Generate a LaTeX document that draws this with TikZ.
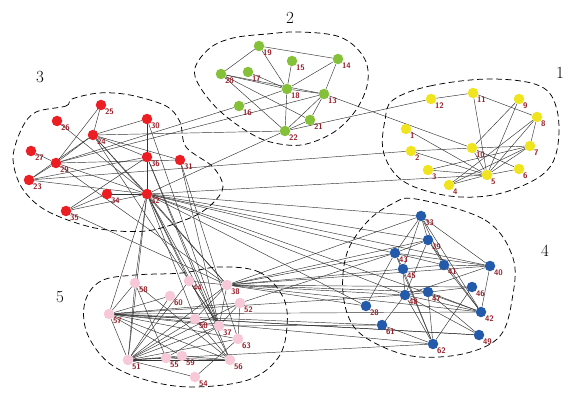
\documentclass[tikz,border=0pt]{standalone}
\usetikzlibrary{backgrounds}
\definecolor{clyellow}{RGB}{240,228,30}
\definecolor{clgreen}{RGB}{133,193,56}
\definecolor{clred}{RGB}{235,30,35}
\definecolor{clblue}{RGB}{35,90,170}
\definecolor{clpink}{RGB}{247,200,215}
\definecolor{labelred}{RGB}{150,30,40}

\begin{document}
\begin{tikzpicture}[x=1pt,y=-1pt,
  vtx/.style={circle,inner sep=0pt,minimum size=10.5pt},
  lbl/.style={anchor=north west,inner sep=0pt,text=labelred,
    font=\sffamily\bfseries\fontsize{8}{8}\selectfont},
  edge/.style={black!80,line width=0.45pt},
  hull/.style={dash pattern=on 6pt off 3.5pt,line width=0.75pt},
  cnum/.style={font=\fontsize{17}{17}\selectfont}]
  \useasboundingbox (0,0) rectangle (572,395);

  % community 1 (yellow)
  \foreach \n/\x/\y in {1/406/129, 2/411/151, 3/428/170, 4/449/185, 5/487/175,
      6/519/169, 7/530/146, 8/537/117, 9/519/99, 10/472/148, 11/473/93, 12/431/99}
    \node[vtx,fill=clyellow,label={[lbl]south east:\n}] (n\n) at (\x,\y) {};
  % community 2 (green)
  \foreach \n/\x/\y in {13/324/94, 14/338/59, 15/292/61, 16/239/106, 17/248/72,
      18/287/89, 19/259/46, 20/221/74, 21/310/120, 22/285/131}
    \node[vtx,fill=clgreen,label={[lbl]south east:\n}] (n\n) at (\x,\y) {};
  % community 3 (red)
  \foreach \n/\x/\y in {23/29/180, 24/93/135, 25/101/105, 26/57/121, 27/31/151,
      29/56/163, 30/147/119, 31/180/160, 32/147/194, 34/107/194, 35/66/211, 36/147/157}
    \node[vtx,fill=clred,label={[lbl]south east:\n}] (n\n) at (\x,\y) {};
  % community 4 (blue)
  \foreach \n/\x/\y in {28/366/306, 33/421/216, 39/428/240, 40/490/266, 41/444/265,
      42/481/312, 43/395/253, 45/403/269, 46/472/287, 47/428/292, 48/405/295,
      49/479/335, 61/382/325, 62/433/344}
    \node[vtx,fill=clblue,label={[lbl]south east:\n}] (n\n) at (\x,\y) {};
  % community 5 (pink)
  \foreach \n/\x/\y in {37/219/326, 38/227/285, 44/189/281, 50/195/319, 51/128/360,
      52/240/303, 54/195/377, 55/166/358, 56/230/360, 57/109/314, 58/135/283,
      59/182/356, 60/170/296, 63/238/339}
    \node[vtx,fill=clpink,label={[lbl]south east:\n}] (n\n) at (\x,\y) {};

  % dashed hulls
  \draw[hull] plot[smooth cycle,tension=0.6] coordinates {(393,100) (430,86) (490,79)
    (540,86) (557,110) (557,150) (542,175) (502,193) (460,197) (420,189) (396,175)
    (383,150) (385,120)};
  \draw[hull] plot[smooth cycle,tension=0.6] coordinates {(233,38) (267,34) (300,32)
    (340,37) (363,56) (368,80) (358,107) (337,130) (310,143) (287,145) (257,137)
    (222,113) (200,87) (195,68) (210,48)};
  \draw[hull] plot[smooth cycle,tension=0.55] coordinates {(36,112) (66,106) (72,99)
    (99,93) (130,95) (166,106) (180,122) (186,147) (213,167) (223,187) (212,204)
    (190,218) (146,231) (95,228) (47,211) (22,188) (13,158) (22,128)};
  \draw[hull] plot[smooth cycle,tension=0.6] coordinates {(416,199) (485,220) (513,258)
    (512,300) (500,336) (467,353) (420,357) (383,347) (354,327) (343,293) (347,253)
    (367,222) (392,204)};
  \draw[hull] plot[smooth cycle,tension=0.6] coordinates {(219,267) (259,272) (283,297)
    (287,327) (278,358) (248,380) (192,387) (146,380) (109,363) (87,333) (85,302)
    (101,281) (135,275) (182,273)};

  % community numbers
  \node[cnum] (c1) at (560,73) {1};
  \node[cnum] (c2) at (290,18) {2};
  \node[cnum] (c3) at (40,77) {3};
  \node[cnum] (c4) at (545,251) {4};
  \node[cnum] (c5) at (60,297) {5};

  % links
  \begin{scope}[on background layer]
    \foreach \a/\b in {12/11, 11/5, 11/8, 9/10, 9/5, 8/7, 8/5, 8/4, 7/10, 7/5,
        7/4, 3/7, 10/5, 10/2, 10/6, 1/5, 2/5, 3/5, 4/5, 6/5,
        19/20, 19/14, 19/18, 15/18, 14/18, 14/13, 17/18, 20/18, 20/13, 20/21,
        20/22, 16/18, 18/13, 18/22, 13/22, 21/22, 13/21,
        13/10, 22/12, 22/24, 22/32, 13/29, 16/29, 2/23, 5/32,
        25/24, 25/29, 24/29, 24/30, 24/36, 24/31, 24/32, 27/29, 29/23, 29/31,
        29/32, 23/36, 23/32, 26/32, 30/36, 36/32, 35/36, 35/34, 35/32, 34/32, 23/24,
        32/57, 32/51, 32/58, 32/38, 32/37, 32/44, 32/50, 32/56, 36/37, 36/56,
        31/37, 31/63, 30/37, 24/38, 24/37, 29/38, 35/38,
        32/33, 32/39, 32/41, 32/40, 32/42, 32/48, 32/28,
        38/33, 38/39, 38/43, 38/45, 38/40, 38/48, 38/46, 38/42, 38/28, 38/47,
        57/48, 57/42, 57/61, 57/49, 57/62, 51/62, 52/43, 37/61, 50/49,
        58/57, 58/51, 58/55, 58/56, 60/57, 60/51, 44/37, 44/51, 44/38, 38/37,
        38/51, 38/50, 52/63, 52/57, 52/51, 52/37, 57/51, 57/50, 57/37, 57/56,
        57/63, 57/59, 50/51, 50/56, 37/51, 37/55, 63/54, 63/51, 51/55, 51/59,
        51/56, 51/54, 59/56, 55/56,
        33/39, 33/43, 33/41, 33/40, 33/42, 33/45, 39/43, 39/41, 39/42, 39/48,
        43/45, 43/28, 43/40, 43/62, 41/40, 41/42, 40/42, 40/48, 45/48, 45/62,
        45/41, 46/62, 46/48, 47/62, 47/42, 47/49, 48/61, 48/62, 48/42, 48/49, 61/62}
      \draw[edge] (n\a) -- (n\b);
  \end{scope}
\end{tikzpicture}
\end{document}
